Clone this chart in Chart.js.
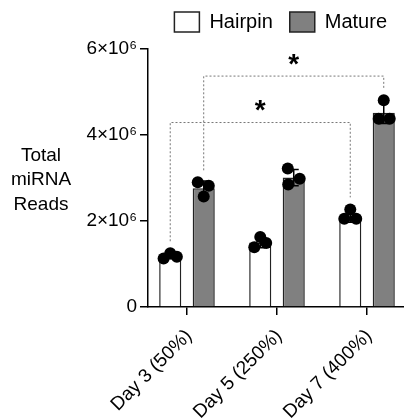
<!DOCTYPE html>
<html>
<head>
<meta charset="utf-8">
<script src="https://cdn.jsdelivr.net/npm/chart.js@4"></script>
<style>
  html, body { margin: 0; padding: 0; background: #fff; overflow: hidden; }
</style>
</head>
<body>
<canvas id="myChart" width="404" height="420"></canvas>
<script>
var categories = ["Day 3 (50%)", "Day 5 (250%)", "Day 7 (400%)"];
var seriesNames = ["Hairpin", "Mature"];
var hairpinMean = [1.18e6, 1.50e6, 2.10e6];
var matureMean = [2.76e6, 3.01e6, 4.52e6];
var hairpinSD = [0.06e6, 0.12e6, 0.13e6];
var matureSD = [0.17e6, 0.19e6, 0.25e6];
var hairpinPoints = [[1.13e6, 1.25e6, 1.17e6], [1.39e6, 1.63e6, 1.49e6], [2.27e6, 2.05e6, 2.05e6]];
var maturePoints = [[2.90e6, 2.82e6, 2.57e6], [3.22e6, 2.98e6, 2.85e6], [4.81e6, 4.38e6, 4.38e6]];
var yTicks = [0, 2e6, 4e6, 6e6];
var yTitle = ["Total", "miRNA", "Reads"];
// significance brackets: dataset, from category, to category, height
var brackets = [[0, 0, 2, 4.29e6], [1, 0, 2, 5.37e6]];
var bracketLabels = ["*", "*"];

// where each replicate dot sits across its bar (fraction of bar width)
var jitter = [
  [[-0.3, 0, 0.3], [-0.27, 0, 0.27], [0, -0.27, 0.27]],
  [[-0.27, 0.23, 0], [-0.27, 0.27, -0.25], [0, -0.23, 0.27]]
];

Chart.defaults.font.family = '"Liberation Sans", Arial, sans-serif';
Chart.defaults.color = '#000';

function toXY(arr) {
  return arr.map(function (v, i) { return {x: i, y: v}; });
}

var extras = {
  id: 'extras',
  beforeInit: function (chart) {
    var fit = chart.legend.fit;
    chart.legend.fit = function () {
      fit.call(this);
      this.height += 7;
    };
  },
  afterDatasetsDraw: function (chart) {
    var ctx = chart.ctx;
    var y = chart.scales.y;
    var sets = [[hairpinMean, hairpinSD, hairpinPoints], [matureMean, matureSD, maturePoints]];

    // brackets
    ctx.save();
    ctx.strokeStyle = '#777';
    ctx.lineWidth = 1;
    ctx.setLineDash([2, 2]);
    brackets.forEach(function (b, n) {
      var meta = chart.getDatasetMeta(b[0]);
      var pts = sets[b[0]][2];
      var xa = meta.data[b[1]].x, xb = meta.data[b[2]].x;
      var yh = y.getPixelForValue(b[3]);
      var ya = y.getPixelForValue(Math.max.apply(null, pts[b[1]])) - 12;
      var yb = y.getPixelForValue(Math.max.apply(null, pts[b[2]])) - 12;
      ctx.beginPath();
      ctx.moveTo(xa, ya);
      ctx.lineTo(xa, yh);
      ctx.lineTo(xb, yh);
      ctx.lineTo(xb, yb);
      ctx.stroke();
    });
    ctx.setLineDash([]);
    ctx.fillStyle = '#000';
    ctx.font = 'bold 28px "Liberation Sans", Arial, sans-serif';
    ctx.textAlign = 'center';
    ctx.textBaseline = 'alphabetic';
    brackets.forEach(function (b, n) {
      var meta = chart.getDatasetMeta(b[0]);
      var xm = (meta.data[b[1]].x + meta.data[b[2]].x) / 2;
      var yc = y.getPixelForValue(b[3]) - 17;
      var m = ctx.measureText(bracketLabels[n]);
      ctx.fillText(bracketLabels[n], xm, yc + (m.actualBoundingBoxAscent - m.actualBoundingBoxDescent) / 2);
    });
    ctx.restore();

    // error bars and replicate dots
    sets.forEach(function (s, d) {
      var meta = chart.getDatasetMeta(d);
      meta.data.forEach(function (bar, i) {
        var top = y.getPixelForValue(s[0][i] + s[1][i]);
        var bot = y.getPixelForValue(s[0][i] - s[1][i]);
        ctx.save();
        ctx.strokeStyle = '#000';
        ctx.lineWidth = 1.5;
        ctx.beginPath();
        ctx.moveTo(bar.x, top); ctx.lineTo(bar.x, bot);
        ctx.moveTo(bar.x - 5, top); ctx.lineTo(bar.x + 5, top);
        ctx.moveTo(bar.x - 5, bot); ctx.lineTo(bar.x + 5, bot);
        ctx.stroke();
        ctx.fillStyle = '#000';
        s[2][i].forEach(function (v, k) {
          ctx.beginPath();
          ctx.arc(bar.x + jitter[d][i][k] * bar.width, y.getPixelForValue(v), 6, 0, Math.PI * 2);
          ctx.fill();
        });
        ctx.restore();
      });
    });
  },
  afterDraw: function (chart) {
    var ctx = chart.ctx;
    var area = chart.chartArea;
    var mid = (area.top + area.bottom) / 2;
    ctx.save();
    ctx.fillStyle = '#000';
    ctx.font = '19px "Liberation Sans", Arial, sans-serif';
    ctx.textAlign = 'center';
    ctx.textBaseline = 'middle';
    yTitle.forEach(function (t, i) {
      ctx.fillText(t, area.left - 107, mid + 2 + (i - 1) * 24.5);
    });
    ctx.restore();
  }
};

var ctx = document.getElementById("myChart");

var myChart = new Chart(ctx, {
  type: 'bar',
  data: {
    datasets: [{
      label: seriesNames[0],
      data: toXY(hairpinMean),
      backgroundColor: '#ffffff',
      borderColor: '#222222',
      borderWidth: 1.5
    }, {
      label: seriesNames[1],
      data: toXY(matureMean),
      backgroundColor: '#808080',
      borderColor: '#222222',
      borderWidth: 1.5
    }]
  },
  options: {
    responsive: false,
    animation: false,
    barPercentage: 0.66,
    categoryPercentage: 0.744,
    layout: { padding: { top: -5, left: 0, right: 0, bottom: 0 } },
    plugins: {
      tooltip: { enabled: false },
      legend: {
        position: 'top',
        align: 'end',
        labels: {
          boxWidth: 25,
          boxHeight: 20,
          padding: 17,
          color: '#000',
          font: { size: 20 }
        }
      }
    },
    scales: {
      x: {
        type: 'linear',
        min: -0.433,
        max: 2.411,
        offset: false,
        afterBuildTicks: function (s) {
          s.ticks = categories.map(function (c, i) { return {value: i}; });
        },
        afterFit: function (s) { s.height = 113; },
        grid: { offset: false, drawOnChartArea: false, tickLength: 8, color: '#000', lineWidth: 1.5 },
        border: { color: '#000', width: 1.5 },
        ticks: {
          autoSkip: false,
          minRotation: 45,
          maxRotation: 45,
          padding: 10,
          labelOffset: 2,
          font: { size: 19 },
          callback: function (v) { return categories[v]; }
        }
      },
      y: {
        min: 0,
        max: 6e6,
        afterBuildTicks: function (s) {
          s.ticks = yTicks.map(function (v) { return {value: v}; });
        },
        afterFit: function (s) { s.width = 148; },
        grid: { drawOnChartArea: false, tickLength: 8, color: '#000', lineWidth: 1.5 },
        border: { color: '#000', width: 1.5 },
        ticks: {
          padding: 3,
          font: { size: 19 },
          callback: function (v) { return v === 0 ? '0' : (v / 1e6) + '×10⁶'; }
        }
      }
    }
  },
  plugins: [extras]
});
</script>
</body>
</html>
